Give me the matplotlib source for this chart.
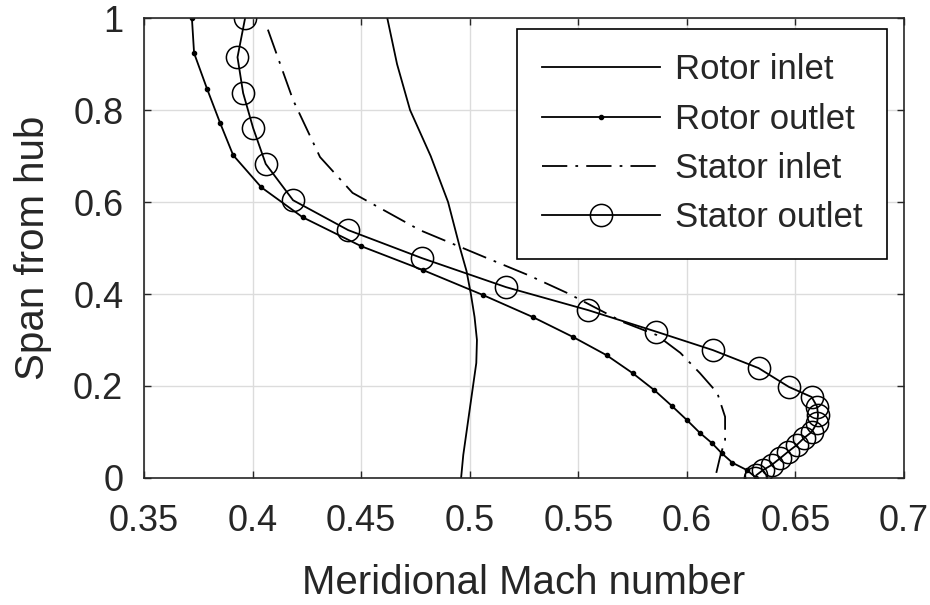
import numpy as np
import matplotlib.pyplot as plt

plt.rcParams["font.family"] = ["Liberation Sans", "DejaVu Sans"]

# spanwise meridional Mach number distributions
rotor_inlet_x = [0.462, 0.4665, 0.4725, 0.482, 0.490, 0.4955, 0.4985, 0.5005,
                 0.5022, 0.5033, 0.503, 0.5015, 0.500, 0.4985, 0.497, 0.496]
rotor_inlet_y = [1.0, 0.9, 0.8, 0.7, 0.6, 0.5, 0.45, 0.4,
                 0.35, 0.3, 0.25, 0.2, 0.15, 0.1, 0.05, 0.0]

rotor_outlet_x = [0.372, 0.373, 0.379, 0.385, 0.391, 0.404, 0.423, 0.450, 0.4785,
                  0.506, 0.529, 0.5476, 0.563, 0.575, 0.585, 0.593, 0.600, 0.606,
                  0.6115, 0.616, 0.621, 0.6277, 0.632]
rotor_outlet_y = [1.0, 0.924, 0.846, 0.772, 0.702, 0.632, 0.567, 0.504, 0.452,
                  0.398, 0.35, 0.3065, 0.267, 0.228, 0.191, 0.157, 0.126, 0.098,
                  0.076, 0.054, 0.033, 0.017, 0.0]

stator_inlet_x = [0.407, 0.4186, 0.431, 0.446, 0.477, 0.508, 0.527, 0.545, 0.5706,
                  0.586, 0.597, 0.606, 0.614, 0.6176, 0.6176, 0.6153, 0.613]
stator_inlet_y = [0.975, 0.822, 0.698, 0.62, 0.539, 0.478, 0.441, 0.402, 0.339,
                  0.311, 0.272, 0.228, 0.185, 0.133, 0.083, 0.046, 0.0]

stator_outlet_x = [0.3965, 0.393, 0.3956, 0.4002, 0.406, 0.4186, 0.444, 0.478, 0.5167,
                   0.5545, 0.586, 0.612, 0.633, 0.647, 0.6575, 0.660, 0.6604, 0.660,
                   0.6575, 0.654, 0.6507, 0.6466, 0.643, 0.639, 0.635, 0.632, 0.6315]
stator_outlet_y = [1.0, 0.915, 0.837, 0.761, 0.683, 0.604, 0.539, 0.478, 0.415,
                   0.365, 0.318, 0.278, 0.239, 0.198, 0.176, 0.155, 0.137, 0.12,
                   0.1, 0.087, 0.072, 0.057, 0.043, 0.028, 0.017, 0.006, 0.0]

x_ticks = [0.35, 0.4, 0.45, 0.5, 0.55, 0.6, 0.65, 0.7]
x_ticklabels = ["0.35", "0.4", "0.45", "0.5", "0.55", "0.6", "0.65", "0.7"]
y_ticks = [0, 0.2, 0.4, 0.6, 0.8, 1]
y_ticklabels = ["0", "0.2", "0.4", "0.6", "0.8", "1"]

txt = "#262626"
lw = 1.3

fig = plt.figure(figsize=(9.3, 6.05), dpi=100)
ax = fig.add_axes([0.155, 0.21, 0.817, 0.76])

ax.plot(rotor_inlet_x, rotor_inlet_y, "-", color="black", lw=lw, label="Rotor inlet")
ax.plot(rotor_outlet_x, rotor_outlet_y, "-", marker="o", markersize=3, color="black",
        lw=lw, label="Rotor outlet")
ax.plot(stator_inlet_x, stator_inlet_y, color="black", lw=lw,
        linestyle=(0, (14, 4.5, 1.5, 4.5)), label="Stator inlet")
ax.plot(stator_outlet_x, stator_outlet_y, "-", marker="o", markersize=16,
        markerfacecolor="none", markeredgecolor="black", markeredgewidth=1.1,
        color="black", lw=lw, label="Stator outlet")

ax.set_xlim(0.35, 0.7)
ax.set_ylim(0, 1)
ax.set_xticks(x_ticks)
ax.set_xticklabels(x_ticklabels)
ax.set_yticks(y_ticks)
ax.set_yticklabels(y_ticklabels)

ax.grid(True, color="#dcdcdc", lw=1.0)
ax.set_axisbelow(True)
ax.tick_params(direction="in", length=5, width=1.0, top=True, right=True,
               labelsize=26, colors=txt)
ax.tick_params(axis="x", pad=19)
ax.tick_params(axis="y", pad=15)
for s in ax.spines.values():
    s.set_color(txt)
    s.set_linewidth(1.2)

ax.set_xlabel("Meridional Mach number", fontsize=29, color=txt, labelpad=18)
ax.set_ylabel("Span from hub", fontsize=29, color=txt, labelpad=15)

leg = ax.legend(loc="upper right", bbox_to_anchor=(0.978, 0.976), fontsize=25,
                handlelength=3.4, handletextpad=0.45, labelspacing=0.47,
                borderpad=0.7, fancybox=False, framealpha=1, edgecolor="black",
                borderaxespad=0)
leg.get_frame().set_linewidth(1.2)
for t in leg.get_texts():
    t.set_color(txt)

fig.savefig("out.png", dpi=100)
